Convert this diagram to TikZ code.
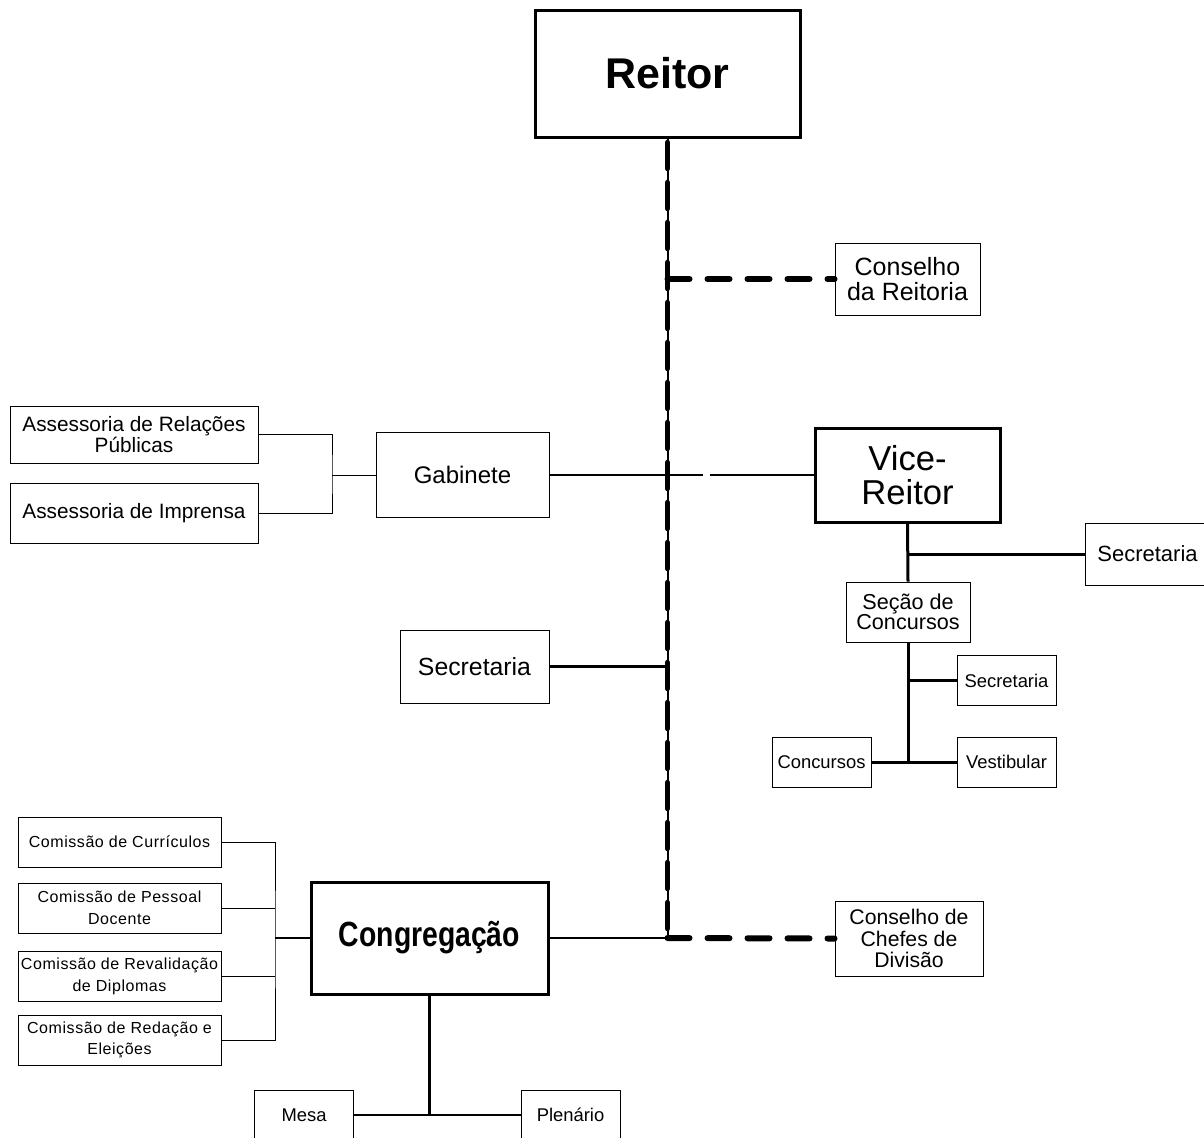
\documentclass[tikz,border=0pt]{standalone}
\usepackage{fontspec}
\setmainfont{Liberation Sans}
\newfontfamily\condfont{Liberation Sans}[FakeStretch=0.81]
\newfontfamily\spacedfont{Liberation Sans}[LetterSpace=3.5]
\tikzset{
    box/.style={rectangle, draw, line width=0.5pt, inner sep=0pt, align=center},
    bigbox/.style={box, line width=1.5pt},
    conn/.style={line width=1.2pt},
    thinconn/.style={line width=0.5pt},
    trunkdash/.style={line width=2.8pt, line cap=round, dash pattern=on 13pt off 7pt},
    sidedash/.style={line width=3pt, line cap=round, dash pattern=on 11pt off 9pt},
    comissao/.style={box, minimum width=101.5pt, minimum height=25pt,
        font=\spacedfont\fontsize{8}{10.8}\selectfont},
    smallbox/.style={box, minimum width=49.5pt, minimum height=25pt,
        font=\fontsize{9.2}{11}\selectfont}
}
\begin{document}
\begin{tikzpicture}[x=0.5pt, y=-0.5pt]
        \useasboundingbox (0,0) rectangle (1204,1137);
        % topo
        \node[bigbox, minimum width=132.5pt, minimum height=63.5pt,
            font=\fontsize{21.5}{24}\selectfont\bfseries] (reitor) at (667.5,73.5) {Reitor};
        \node[box, minimum width=72.5pt, minimum height=36pt,
            font=\fontsize{12.5}{12.5}\selectfont] (conselhoreit) at (907.5,279) {Conselho\\da Reitoria};
        \node[bigbox, minimum width=92.5pt, minimum height=47pt,
            font=\fontsize{17.3}{17}\selectfont] (vicereitor) at (907.5,475) {Vice-\\Reitor};
        \node[box, minimum width=86.5pt, minimum height=42.5pt,
            font=\fontsize{12}{14}\selectfont] (gabinete) at (462.5,475) {Gabinete};
        \node[box, minimum width=124pt, minimum height=28.5pt,
            font=\fontsize{10.4}{10.4}\selectfont] (relpub) at (134,434.5) {Assessoria de Relações\\Públicas};
        \node[box, minimum width=124pt, minimum height=30pt,
            font=\fontsize{10.4}{10.4}\selectfont] (imprensa) at (134,513) {Assessoria de Imprensa};
        \node[box, minimum width=74.5pt, minimum height=36.5pt,
            font=\fontsize{12.4}{14}\selectfont] (secretaria) at (474.5,666.5) {Secretaria};
        % vice-reitor
        \node[box, minimum width=62.5pt, minimum height=31pt,
            font=\fontsize{11}{13}\selectfont] (secvice) at (1147.5,554) {Secretaria};
        \node[box, minimum width=62pt, minimum height=30pt,
            font=\fontsize{10.8}{10.2}\selectfont] (secao) at (908,612) {Seção de\\Concursos};
        \node[smallbox] (secsecao) at (1006.5,680.5) {Secretaria};
        \node[smallbox] (concursos) at (821.5,762) {Concursos};
        \node[smallbox] (vestibular) at (1006.5,762) {Vestibular};
        % congregacao
        \node[bigbox, minimum width=118.5pt, minimum height=56pt,
            font=\condfont\bfseries\fontsize{17.5}{20}\selectfont] (congregacao) at (429.5,938) {Congregação};
        \node[box, minimum width=74pt, minimum height=37.5pt,
            font=\fontsize{10.6}{10.6}\selectfont] (chefes) at (909,938.5) {Conselho de\\Chefes de\\Divisão};
        \node[comissao] (curriculos) at (119.5,842) {Comissão de Currículos};
        \node[comissao] (pessoal) at (119.5,908) {Comissão de Pessoal\\Docente};
        \node[comissao] (revalidacao) at (119.5,976.5) {Comissão de Revalidação\\de Diplomas};
        \node[comissao] (redacao) at (119.5,1040) {Comissão de Redação e\\Eleições};
        \node[smallbox] (mesa) at (304,1115) {Mesa};
        \node[smallbox] (plenario) at (570.5,1115) {Plenário};

        \coordinate (trunkend) at (reitor.south |- congregacao.east);
        \coordinate (gabend) at (703,475);
        \coordinate (viceend) at (710,475);
        \coordinate (gabfork) at (332,475);
        \coordinate (congfork) at (275,938);

        % linha principal
        \draw[line width=1pt] (reitor.south) -- (trunkend);
        \draw[trunkdash] ([yshift=-2pt]reitor.south) -- (trunkend);
        \draw[sidedash] (reitor.south |- conselhoreit.west) -- (conselhoreit.west);
        \draw[sidedash] (trunkend) -- (chefes.west);
        \draw[conn] (gabinete.east) -- (gabend);
        \draw[conn, line width=1pt] (viceend) -- (vicereitor.west);
        \draw[conn] (secretaria.east) -- (reitor.south |- secretaria.east);
        \draw[conn, line width=1pt] (congregacao.east) -- (trunkend);
        % assessorias
        \draw[thinconn] (relpub.east) -| (gabfork) |- (imprensa.east);
        \draw[thinconn] (gabfork) -- (gabinete.west);
        % comissoes
        \draw[thinconn] (curriculos.east) -| (congfork) |- (redacao.east);
        \draw[thinconn] (pessoal.east) -- (pessoal.east -| congfork);
        \draw[thinconn] (revalidacao.east) -- (revalidacao.east -| congfork);
        \draw[conn, line width=1pt] (congfork) -- (congregacao.west);
        \draw[conn] (congregacao.south) -- (congregacao.south |- mesa.east);
        \draw[conn] (mesa.east) -- (plenario.west);
        % vice-reitor
        \draw[conn, line width=1.5pt] (vicereitor.south) -- (secao.north);
        \draw[conn, line width=1.5pt] (vicereitor.south |- secvice.west) -- (secvice.west);
        \draw[conn, line width=1.5pt] (secao.south) -- (secao.south |- concursos.east);
        \draw[conn, line width=1.5pt] (secao.south |- secsecao.west) -- (secsecao.west);
        \draw[conn, line width=1.5pt] (concursos.east) -- (vestibular.west);
    \end{tikzpicture}
\end{document}
